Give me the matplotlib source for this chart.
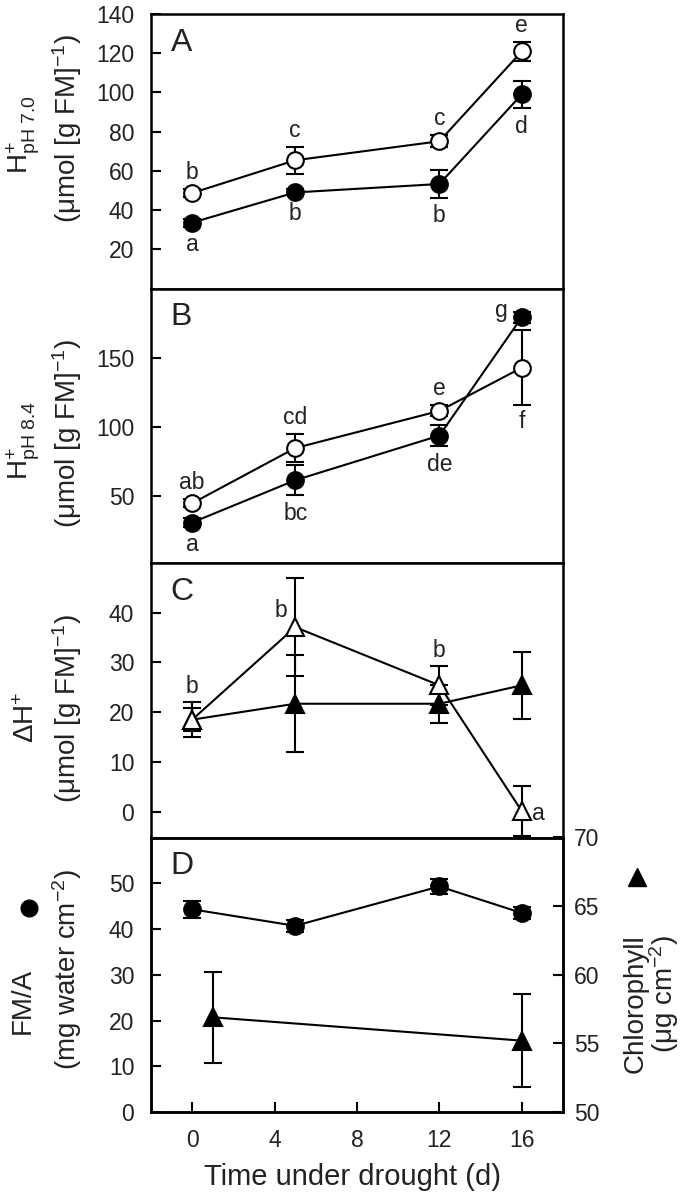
import matplotlib
matplotlib.use('Agg')
import matplotlib.pyplot as plt
from matplotlib.lines import Line2D

plt.rcParams['font.family'] = ['Liberation Sans', 'DejaVu Sans']
plt.rcParams['mathtext.fontset'] = 'custom'
plt.rcParams['mathtext.rm'] = 'Liberation Sans'
plt.rcParams['mathtext.it'] = 'Liberation Sans:italic'
plt.rcParams['mathtext.bf'] = 'Liberation Sans:bold'
plt.rcParams['mathtext.default'] = 'regular'

# ---------------- data ----------------
days = [0, 5, 12, 16]

# Panel A: H+ pH 7.0
a_open = [48.7, 65.4, 75.1, 120.9]
a_open_err = [2.0, 6.8, 3.0, 4.7]
a_filled = [33.6, 49.0, 53.3, 99.0]
a_filled_err = [2.0, 1.5, 7.0, 7.0]
a_open_letters = ['b', 'c', 'c', 'e']
a_filled_letters = ['a', 'b', 'b', 'd']

# Panel B: H+ pH 8.4
b_open = [45.1, 84.9, 111.7, 142.9]
b_open_err = [3.0, 10.0, 4.0, 27.0]
b_filled = [31.2, 61.7, 93.9, 179.3]
b_filled_err = [3.0, 11.0, 7.5, 4.0]
b_open_letters = ['ab', 'cd', 'e', 'f']
b_filled_letters = ['a', 'bc', 'de', 'g']

# Panel C: delta H+
c_open = [18.5, 37.1, 25.4, 0.1]
c_open_err = [3.5, 9.8, 3.9, 5.0]
c_filled = [18.5, 21.7, 21.7, 25.4]
c_filled_err = [2.3, 9.8, 3.8, 6.8]
c_open_letters = ['b', 'b', 'b', 'a']

# Panel D: FM/A and chlorophyll
fma_days = [0, 5, 12, 16]
fma = [44.3, 40.7, 49.3, 43.5]
fma_err = [1.8, 1.3, 1.7, 1.3]
chl_days = [1, 16]
chl = [56.9, 55.2]
chl_err = [3.3, 3.4]

xticks = [0, 4, 8, 12, 16]
a_yticks = [20, 40, 60, 80, 100, 120, 140]
b_yticks = [50, 100, 150]
c_yticks = [0, 10, 20, 30, 40]
d_yticks = [0, 10, 20, 30, 40, 50]
d_rticks = [50, 55, 60, 65, 70]

# ---------------- layout ----------------
W, H = 695, 1199
fig = plt.figure(figsize=(W / 100, H / 100), dpi=100)

left_px, right_px = 151, 563
top_px, bot_px = 14, 1112
ph = (bot_px - top_px) / 4.0

def fx(px):
    return px / W

def fy(py):
    return 1 - py / H

axes = []
for i in range(4):
    t = top_px + i * ph
    ax = fig.add_axes([fx(left_px), fy(t + ph), fx(right_px - left_px), ph / H])
    axes.append(ax)

TXT = '#222222'
TICK_FS = 16.5
LAB_FS = 20
LET_FS = 16.5
LW = 1.5
MS = 12
TMS = 12.5
CAP = 6.5

def style(ax, xlabels=False):
    for s in ax.spines.values():
        s.set_linewidth(1.8)
    ax.set_xlim(-2, 18)
    ax.tick_params(axis='y', direction='in', length=7, width=1.5,
                   labelsize=TICK_FS, pad=12, right=False, labelcolor=TXT)
    if xlabels:
        ax.set_xticks(xticks)
        ax.tick_params(axis='x', direction='in', length=7, width=1.5,
                       labelsize=TICK_FS, pad=12, top=False, labelcolor=TXT)
    else:
        ax.set_xticks([])

def series(ax, x, y, e, marker, face, ms=MS):
    ax.errorbar(x, y, yerr=e, fmt='none', ecolor='black', elinewidth=1.5,
                capsize=CAP, capthick=1.5, zorder=2)
    ax.plot(x, y, color='black', lw=LW, zorder=3)
    ax.plot(x, y, linestyle='none', marker=marker, ms=ms, mfc=face,
            mec='black', mew=1.5, zorder=4)

def letters(ax, x, y, e, labs, where, dy_pt, overrides=None):
    overrides = overrides or {}
    for i, (xi, yi, ei, lab) in enumerate(zip(x, y, e, labs)):
        if i in overrides:
            dx, ddy = overrides[i]
            ax.annotate(lab, (xi, yi), xytext=(dx, ddy), textcoords='offset points',
                        ha='center', va='center', fontsize=LET_FS, color=TXT)
            continue
        yy = yi + ei if where == 'above' else yi - ei
        d = dy_pt if where == 'above' else -dy_pt
        ax.annotate(lab, (xi, yy), xytext=(0, d), textcoords='offset points',
                    ha='center', va='center', fontsize=LET_FS, color=TXT)

def panel_letter(ax, s):
    ax.text(0.048, 0.895, s, transform=ax.transAxes, fontsize=23,
            ha='left', va='center', color=TXT)

# Panel A
axA = axes[0]
style(axA)
axA.set_ylim(0, 140)
axA.set_yticks(a_yticks)
series(axA, days, a_filled, a_filled_err, 'o', 'black')
series(axA, days, a_open, a_open_err, 'o', 'white')
letters(axA, days, a_open, a_open_err, a_open_letters, 'above', 12)
letters(axA, days, a_filled, a_filled_err, a_filled_letters, 'below', 13)
panel_letter(axA, 'A')

# Panel B
axB = axes[1]
style(axB)
axB.set_ylim(2, 200)
axB.set_yticks(b_yticks)
series(axB, days, b_filled, b_filled_err, 'o', 'black')
series(axB, days, b_open, b_open_err, 'o', 'white')
letters(axB, days[:3], b_open[:3], b_open_err[:3], b_open_letters[:3], 'above', 12)
letters(axB, days[3:], b_open[3:], b_open_err[3:], b_open_letters[3:], 'below', 12)
letters(axB, days[:3], b_filled[:3], b_filled_err[:3], b_filled_letters[:3], 'below', 13)
letters(axB, days[3:], b_filled[3:], b_filled_err[3:], b_filled_letters[3:], 'above', 0,
        overrides={0: (-15, 5)})
panel_letter(axB, 'B')

# Panel C
axC = axes[2]
style(axC)
axC.set_ylim(-5.2, 50)
axC.set_yticks(c_yticks)
series(axC, days, c_filled, c_filled_err, '^', 'black', ms=TMS)
series(axC, days, c_open, c_open_err, '^', 'white', ms=TMS)
letters(axC, days, c_open, c_open_err, c_open_letters, 'above', 11,
        overrides={1: (-10, 12), 3: (12, -2)})
panel_letter(axC, 'C')

# Panel D
axD = axes[3]
style(axD, xlabels=True)
axD.set_ylim(0, 60)
axD.set_yticks(d_yticks)
series(axD, fma_days, fma, fma_err, 'o', 'black')
axD2 = axD.twinx()
axD2.set_ylim(50, 70)
axD2.set_yticks(d_rticks)
axD2.tick_params(axis='y', direction='in', length=7, width=1.5,
                 labelsize=TICK_FS, pad=8, labelcolor=TXT)
for s in axD2.spines.values():
    s.set_linewidth(1.8)
series(axD2, chl_days, chl, chl_err, '^', 'black', ms=TMS)
panel_letter(axD, 'D')

# ---------------- axis titles ----------------
def vtext(xpx, ypx, s, fs=LAB_FS, **kw):
    fig.text(fx(xpx), fy(ypx), s, rotation=90, ha='center', va='center',
             fontsize=fs, color=TXT, **kw)

def fig_marker(xpx, ypx, m, ms):
    fig.add_artist(Line2D([fx(xpx)], [fy(ypx)], marker=m, ms=ms, color='black',
                          mec='black', linestyle='none', transform=fig.transFigure))

unit = r'($\mu$mol [g FM]$^{-1}$)'
vtext(24, 135, r'H$^{+}_{\mathrm{pH\ 7.0}}$')
vtext(67, 128, unit)
vtext(24, 440, r'H$^{+}_{\mathrm{pH\ 8.4}}$')
vtext(67, 433, unit)
vtext(27, 717, r'$\Delta$H$^{+}$')
vtext(67, 708, unit)
vtext(23, 1001, 'FM/A')
fig_marker(29, 908, 'o', 12)
vtext(67, 970, r'(mg water cm$^{-2}$)')
vtext(636, 1004, 'Chlorophyll')
fig_marker(637, 877, '^', 13)
vtext(664, 994, r'($\mu$g cm$^{-2}$)')

fig.text(fx(353), fy(1177), 'Time under drought (d)',
         ha='center', va='center', fontsize=21, color=TXT)

fig.savefig('out.png', dpi=100)
